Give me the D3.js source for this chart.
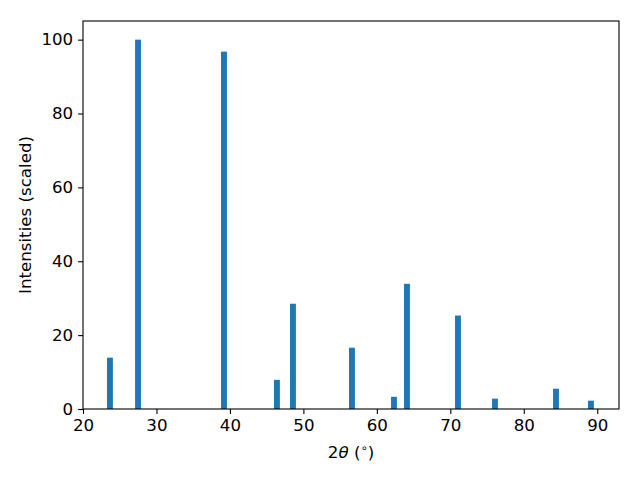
<!DOCTYPE html>
<html><head><meta charset="utf-8">
<script src="https://cdn.jsdelivr.net/npm/d3@7/dist/d3.min.js"></script>
<style>body{margin:0;background:#fff}svg{display:block}text{font-family:"DejaVu Sans",sans-serif}</style>
</head><body><svg id="c" width="640" height="480"></svg>
<script>
const angles = [23.67, 27.49, 39.19, 46.4, 48.58, 56.61, 62.33, 64.1, 71.04, 76.08, 84.38, 89.14];
const intensities = [13.9, 100, 96.75, 7.9, 28.5, 16.6, 3.3, 33.9, 25.3, 2.8, 5.5, 2.25];
const xTicks = [20, 30, 40, 50, 60, 70, 80, 90];
const yTicks = [0, 20, 40, 60, 80, 100];
const barWidth = 0.8;

const svg = d3.select("#c");
const L = 83, R = 619, T = 21, B = 409;
const x = d3.scaleLinear().domain([20, 92.96]).range([L, R]);
const y = d3.scaleLinear().domain([0, 105.05]).range([B, T]);

svg.append("g").selectAll("rect").data(angles).join("rect")
  .attr("x", (d) => x(d - barWidth / 2))
  .attr("width", (d) => x(d + barWidth / 2) - x(d - barWidth / 2))
  .attr("y", (d, i) => y(intensities[i]))
  .attr("height", (d, i) => y(0) - y(intensities[i]))
  .attr("fill", "#1f77b4");

const fs = 16.67;
const xa = svg.append("g").attr("transform", `translate(0,${B})`)
  .call(d3.axisBottom(x).tickValues(xTicks).tickSize(4.9).tickPadding(4.9).tickFormat(d3.format("d")));
const ya = svg.append("g").attr("transform", `translate(${L},0)`)
  .call(d3.axisLeft(y).tickValues(yTicks).tickSize(4.9).tickPadding(4.9).tickFormat(d3.format("d")));
[xa, ya].forEach(g => {
  g.select(".domain").remove();
  g.selectAll("line").attr("stroke", "#000").attr("stroke-width", 1.1);
  g.selectAll("text").attr("font-size", fs).attr("fill", "#000").attr("font-family", "DejaVu Sans");
});
svg.append("rect").attr("x", L).attr("y", T).attr("width", R - L).attr("height", B - T)
  .attr("fill", "none").attr("stroke", "#000").attr("stroke-width", 1.1);

const xl = svg.append("text").attr("x", (L + R) / 2).attr("y", 458).attr("text-anchor", "middle")
  .attr("font-size", fs);
xl.append("tspan").text("2");
xl.append("tspan").attr("font-style", "italic").text("θ");
xl.append("tspan").text(" (");
xl.append("tspan").attr("font-size", 11.5).attr("dy", -6.5).text("∘");
xl.append("tspan").attr("dy", 6.5).text(")");

svg.append("text").attr("transform", `translate(31,${(T + B) / 2}) rotate(-90)`)
  .attr("text-anchor", "middle").attr("font-size", fs).text("Intensities (scaled)");
</script></body></html>
